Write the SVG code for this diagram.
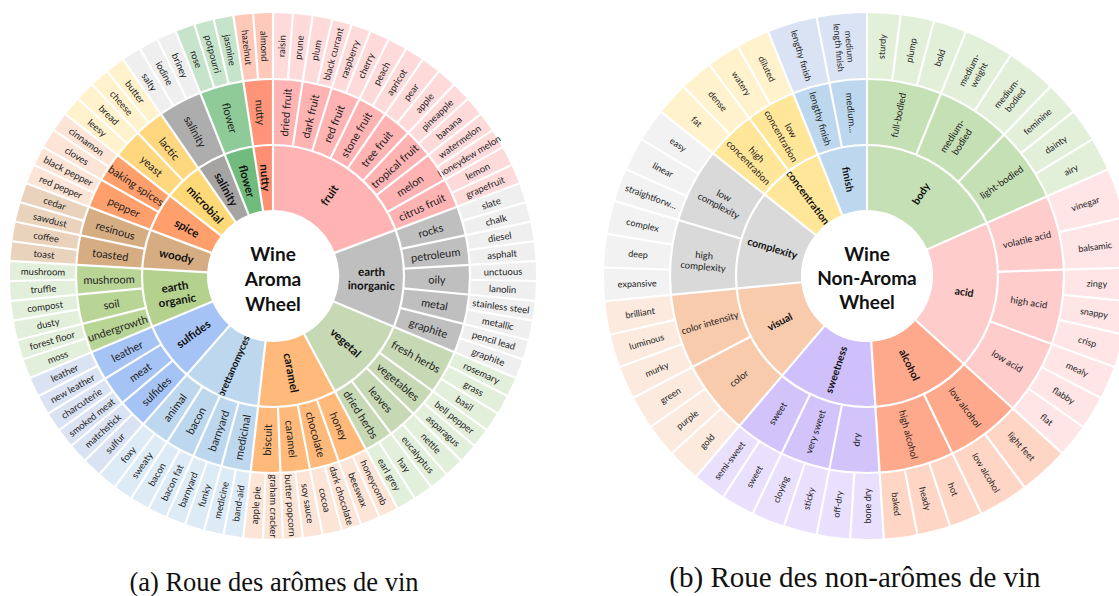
<svg xmlns="http://www.w3.org/2000/svg" xmlns:xlink="http://www.w3.org/1999/xlink" width="1119" height="596" viewBox="0 0 1119 596">
<style>
.a{fill:none}
text{font-family:Lato,"Open Sans","Liberation Sans",sans-serif;text-anchor:middle;dominant-baseline:central;fill:#222}
.l{font-size:9.5px;fill:#333}
.s{font-size:11px}
.k{font-size:11.5px;font-weight:bold;fill:#111}
.rl{font-size:9px;fill:#333}
.rs{font-size:9.5px}
.rk{font-size:10.5px;font-weight:bold;fill:#111}
.sep{stroke:#fff;stroke-width:2.2}
.ring{fill:none;stroke:#fff;stroke-width:2.2}
.ctr{font-size:19px;font-weight:bold;fill:#111}
.cap{font-family:"Liberation Serif","DejaVu Serif",serif;font-size:26.5px;fill:#111;dominant-baseline:alphabetic}
</style>
<defs>
<line id="lc" class="sep" x1="65" x2="265"/>
<line id="ls" class="sep" x1="131" x2="265"/>
<line id="ll" class="sep" x1="197" x2="265"/>
</defs>
<rect width="1119" height="596" fill="#fff"/>

<!-- LEFT WHEEL -->
<g id="wheel-aroma" transform="translate(273,276)">
<g id="fruit">
<circle class="a" pathLength="360" r="98.5" stroke-width="65" stroke="#FFB3B3" stroke-dasharray="69.398 360" transform="rotate(-90)"/>
<circle class="a" pathLength="360" r="164" stroke-width="66" stroke="#FFB3B3" stroke-dasharray="69.398 360" transform="rotate(-90)"/>
<circle class="a" pathLength="360" r="230" stroke-width="66" stroke="#FFDADA" stroke-dasharray="69.398 360" transform="rotate(-90)"/>
<text class="k" transform="rotate(-55.301)" x="98.5">fruit</text>
<g class="s">
<text transform="rotate(-85.663)" x="164">dried fruit</text>
<text transform="rotate(-76.988)" x="164">dark fruit</text>
<text transform="rotate(-68.313)" x="164">red fruit</text>
<text transform="rotate(-59.639)" x="164">stone fruit</text>
<text transform="rotate(-50.964)" x="164">tree fruit</text>
<text transform="rotate(-42.289)" x="164">tropical fruit</text>
<text transform="rotate(-33.614)" x="164">melon</text>
<text transform="rotate(-24.940)" x="164">citrus fruit</text>
</g>
<g class="l">
<text transform="rotate(-87.831)" x="230">raisin</text>
<text transform="rotate(-83.494)" x="230">prune</text>
<text transform="rotate(-79.157)" x="230">plum</text>
<text transform="rotate(-74.819)" x="230">black currant</text>
<text transform="rotate(-70.482)" x="230">raspberry</text>
<text transform="rotate(-66.145)" x="230">cherry</text>
<text transform="rotate(-61.807)" x="230">peach</text>
<text transform="rotate(-57.470)" x="230">apricot</text>
<text transform="rotate(-53.133)" x="230">pear</text>
<text transform="rotate(-48.795)" x="230">apple</text>
<text transform="rotate(-44.458)" x="230">pineapple</text>
<text transform="rotate(-40.120)" x="230">banana</text>
<text transform="rotate(-35.783)" x="230">watermelon</text>
<text transform="rotate(-31.446)" x="230">honeydew melon</text>
<text transform="rotate(-27.108)" x="230">lemon</text>
<text transform="rotate(-22.771)" x="230">grapefruit</text>
</g>
</g>
<g id="earth-inorganic">
<circle class="a" pathLength="360" r="98.5" stroke-width="65" stroke="#BFBFBF" stroke-dasharray="43.373 360" transform="rotate(-20.602)"/>
<circle class="a" pathLength="360" r="164" stroke-width="66" stroke="#BFBFBF" stroke-dasharray="43.373 360" transform="rotate(-20.602)"/>
<circle class="a" pathLength="360" r="230" stroke-width="66" stroke="#EFEFEF" stroke-dasharray="43.373 360" transform="rotate(-20.602)"/>
<text class="k" transform="rotate(1.084)"><tspan x="98.5" dy="-0.6em">earth</tspan><tspan x="98.5" dy="1.2em">inorganic</tspan></text>
<g class="s">
<text transform="rotate(-16.265)" x="164">rocks</text>
<text transform="rotate(-7.590)" x="164">petroleum</text>
<text transform="rotate(1.084)" x="164">oily</text>
<text transform="rotate(9.759)" x="164">metal</text>
<text transform="rotate(18.434)" x="164">graphite</text>
</g>
<g class="l">
<text transform="rotate(-18.434)" x="230">slate</text>
<text transform="rotate(-14.096)" x="230">chalk</text>
<text transform="rotate(-9.759)" x="230">diesel</text>
<text transform="rotate(-5.422)" x="230">asphalt</text>
<text transform="rotate(-1.084)" x="230">unctuous</text>
<text transform="rotate(3.253)" x="230">lanolin</text>
<text transform="rotate(7.590)" x="230">stainless steel</text>
<text transform="rotate(11.928)" x="230">metallic</text>
<text transform="rotate(16.265)" x="230">pencil lead</text>
<text transform="rotate(20.602)" x="230">graphite</text>
</g>
</g>
<g id="vegetal">
<circle class="a" pathLength="360" r="98.5" stroke-width="65" stroke="#C6D8B4" stroke-dasharray="39.036 360" transform="rotate(22.771)"/>
<circle class="a" pathLength="360" r="164" stroke-width="66" stroke="#C6D8B4" stroke-dasharray="39.036 360" transform="rotate(22.771)"/>
<circle class="a" pathLength="360" r="230" stroke-width="66" stroke="#E2EFDA" stroke-dasharray="39.036 360" transform="rotate(22.771)"/>
<text class="k" transform="rotate(42.289)" x="98.5">vegetal</text>
<g class="s">
<text transform="rotate(29.277)" x="164">fresh herbs</text>
<text transform="rotate(40.120)" x="164">vegetables</text>
<text transform="rotate(48.795)" x="164">leaves</text>
<text transform="rotate(57.470)" x="164">dried herbs</text>
</g>
<g class="l">
<text transform="rotate(24.940)" x="230">rosemary</text>
<text transform="rotate(29.277)" x="230">grass</text>
<text transform="rotate(33.614)" x="230">basil</text>
<text transform="rotate(37.952)" x="230">bell pepper</text>
<text transform="rotate(42.289)" x="230">asparagus</text>
<text transform="rotate(46.627)" x="230">nettle</text>
<text transform="rotate(50.964)" x="230">eucalyptus</text>
<text transform="rotate(55.301)" x="230">hay</text>
<text transform="rotate(59.639)" x="230">earl grey</text>
</g>
</g>
<g id="caramel">
<circle class="a" pathLength="360" r="98.5" stroke-width="65" stroke="#FFB97A" stroke-dasharray="34.699 360" transform="rotate(61.807)"/>
<circle class="a" pathLength="360" r="164" stroke-width="66" stroke="#FFB97A" stroke-dasharray="34.699 360" transform="rotate(61.807)"/>
<circle class="a" pathLength="360" r="230" stroke-width="66" stroke="#FCE4D6" stroke-dasharray="34.699 360" transform="rotate(61.807)"/>
<text class="k" transform="rotate(79.157)" x="98.5">caramel</text>
<g class="s">
<text transform="rotate(66.145)" x="164">honey</text>
<text transform="rotate(74.819)" x="164">chocolate</text>
<text transform="rotate(83.494)" x="164">caramel</text>
<text transform="rotate(-87.831)" x="-164">biscuit</text>
</g>
<g class="l">
<text transform="rotate(63.976)" x="230">honeycomb</text>
<text transform="rotate(68.313)" x="230">beeswax</text>
<text transform="rotate(72.651)" x="230">dark chocolate</text>
<text transform="rotate(76.988)" x="230">cocoa</text>
<text transform="rotate(81.325)" x="230">soy sauce</text>
<text transform="rotate(85.663)" x="230">butter popcorn</text>
<text transform="rotate(90)" x="230">graham cracker</text>
<text transform="rotate(-85.663)" x="-230">apple pie</text>
</g>
</g>
<g id="brettanomyces">
<circle class="a" pathLength="360" r="98.5" stroke-width="65" stroke="#BDD7EE" stroke-dasharray="34.699 360" transform="rotate(96.506)"/>
<circle class="a" pathLength="360" r="164" stroke-width="66" stroke="#BDD7EE" stroke-dasharray="34.699 360" transform="rotate(96.506)"/>
<circle class="a" pathLength="360" r="230" stroke-width="66" stroke="#DDEBF7" stroke-dasharray="34.699 360" transform="rotate(96.506)"/>
<text class="k" style="font-size:10px" transform="rotate(-66.145)" x="-98.5">brettanomyces</text>
<g class="s">
<text transform="rotate(-79.157)" x="-164">medicinal</text>
<text transform="rotate(-70.482)" x="-164">barnyard</text>
<text transform="rotate(-61.807)" x="-164">bacon</text>
<text transform="rotate(-53.133)" x="-164">animal</text>
</g>
<g class="l">
<text transform="rotate(-81.325)" x="-230">band-aid</text>
<text transform="rotate(-76.988)" x="-230">medicine</text>
<text transform="rotate(-72.651)" x="-230">funky</text>
<text transform="rotate(-68.313)" x="-230">barnyard</text>
<text transform="rotate(-63.976)" x="-230">bacon fat</text>
<text transform="rotate(-59.639)" x="-230">bacon</text>
<text transform="rotate(-55.301)" x="-230">sweaty</text>
<text transform="rotate(-50.964)" x="-230">foxy</text>
</g>
</g>
<g id="sulfides">
<circle class="a" pathLength="360" r="98.5" stroke-width="65" stroke="#A6C3F5" stroke-dasharray="26.024 360" transform="rotate(131.205)"/>
<circle class="a" pathLength="360" r="164" stroke-width="66" stroke="#A6C3F5" stroke-dasharray="26.024 360" transform="rotate(131.205)"/>
<circle class="a" pathLength="360" r="230" stroke-width="66" stroke="#DAE3F3" stroke-dasharray="26.024 360" transform="rotate(131.205)"/>
<text class="k" transform="rotate(-35.783)" x="-98.5">sulfides</text>
<g class="s">
<text transform="rotate(-44.458)" x="-164">sulfides</text>
<text transform="rotate(-35.783)" x="-164">meat</text>
<text transform="rotate(-27.108)" x="-164">leather</text>
</g>
<g class="l">
<text transform="rotate(-46.627)" x="-230">sulfur</text>
<text transform="rotate(-42.289)" x="-230">matchstick</text>
<text transform="rotate(-37.952)" x="-230">smoked meat</text>
<text transform="rotate(-33.614)" x="-230">charcuterie</text>
<text transform="rotate(-29.277)" x="-230">new leather</text>
<text transform="rotate(-24.940)" x="-230">leather</text>
</g>
</g>
<g id="earth-organic">
<circle class="a" pathLength="360" r="98.5" stroke-width="65" stroke="#B4D28E" stroke-dasharray="26.024 360" transform="rotate(157.229)"/>
<circle class="a" pathLength="360" r="164" stroke-width="66" stroke="#B9D596" stroke-dasharray="26.024 360" transform="rotate(157.229)"/>
<circle class="a" pathLength="360" r="230" stroke-width="66" stroke="#E2EFDA" stroke-dasharray="26.024 360" transform="rotate(157.229)"/>
<text class="k" transform="rotate(-9.759)"><tspan x="-98.5" dy="-0.6em">earth</tspan><tspan x="-98.5" dy="1.2em">organic</tspan></text>
<g class="s">
<text transform="rotate(-18.434)" x="-164">undergrowth</text>
<text transform="rotate(-9.759)" x="-164">soil</text>
<text transform="rotate(-1.084)" x="-164">mushroom</text>
</g>
<g class="l">
<text transform="rotate(-20.602)" x="-230">moss</text>
<text transform="rotate(-16.265)" x="-230">forest floor</text>
<text transform="rotate(-11.928)" x="-230">dusty</text>
<text transform="rotate(-7.590)" x="-230">compost</text>
<text transform="rotate(-3.253)" x="-230">truffle</text>
<text transform="rotate(1.084)" x="-230">mushroom</text>
</g>
</g>
<g id="woody">
<circle class="a" pathLength="360" r="98.5" stroke-width="65" stroke="#D6AD82" stroke-dasharray="17.349 360" transform="rotate(183.253)"/>
<circle class="a" pathLength="360" r="164" stroke-width="66" stroke="#D6AD82" stroke-dasharray="17.349 360" transform="rotate(183.253)"/>
<circle class="a" pathLength="360" r="230" stroke-width="66" stroke="#EAD3BD" stroke-dasharray="17.349 360" transform="rotate(183.253)"/>
<text class="k" transform="rotate(11.928)" x="-98.5">woody</text>
<g class="s">
<text transform="rotate(7.590)" x="-164">toasted</text>
<text transform="rotate(16.265)" x="-164">resinous</text>
</g>
<g class="l">
<text transform="rotate(5.422)" x="-230">toast</text>
<text transform="rotate(9.759)" x="-230">coffee</text>
<text transform="rotate(14.096)" x="-230">sawdust</text>
<text transform="rotate(18.434)" x="-230">cedar</text>
</g>
</g>
<g id="spice">
<circle class="a" pathLength="360" r="98.5" stroke-width="65" stroke="#FFA06C" stroke-dasharray="17.349 360" transform="rotate(200.602)"/>
<circle class="a" pathLength="360" r="164" stroke-width="66" stroke="#FFA06C" stroke-dasharray="17.349 360" transform="rotate(200.602)"/>
<circle class="a" pathLength="360" r="230" stroke-width="66" stroke="#FCE4D6" stroke-dasharray="17.349 360" transform="rotate(200.602)"/>
<text class="k" transform="rotate(29.277)" x="-98.5">spice</text>
<g class="s">
<text transform="rotate(24.940)" x="-164">pepper</text>
<text transform="rotate(33.614)" x="-164">baking spices</text>
</g>
<g class="l">
<text transform="rotate(22.771)" x="-230">red pepper</text>
<text transform="rotate(27.108)" x="-230">black pepper</text>
<text transform="rotate(31.446)" x="-230">cloves</text>
<text transform="rotate(35.783)" x="-230">cinnamon</text>
</g>
</g>
<g id="microbial">
<circle class="a" pathLength="360" r="98.5" stroke-width="65" stroke="#FFD977" stroke-dasharray="17.349 360" transform="rotate(217.952)"/>
<circle class="a" pathLength="360" r="164" stroke-width="66" stroke="#FFD77E" stroke-dasharray="17.349 360" transform="rotate(217.952)"/>
<circle class="a" pathLength="360" r="230" stroke-width="66" stroke="#FFF2CC" stroke-dasharray="17.349 360" transform="rotate(217.952)"/>
<text class="k" transform="rotate(46.627)" x="-98.5">microbial</text>
<g class="s">
<text transform="rotate(42.289)" x="-164">yeast</text>
<text transform="rotate(50.964)" x="-164">lactic</text>
</g>
<g class="l">
<text transform="rotate(40.120)" x="-230">leesy</text>
<text transform="rotate(44.458)" x="-230">bread</text>
<text transform="rotate(48.795)" x="-230">cheese</text>
<text transform="rotate(53.133)" x="-230">butter</text>
</g>
</g>
<g id="salinity">
<circle class="a" pathLength="360" r="98.5" stroke-width="65" stroke="#A6A3A3" stroke-dasharray="13.012 360" transform="rotate(235.301)"/>
<circle class="a" pathLength="360" r="164" stroke-width="66" stroke="#AEADAD" stroke-dasharray="13.012 360" transform="rotate(235.301)"/>
<circle class="a" pathLength="360" r="230" stroke-width="66" stroke="#EFEFEF" stroke-dasharray="13.012 360" transform="rotate(235.301)"/>
<text class="k" transform="rotate(61.807)" x="-98.5">salinity</text>
<text class="s" transform="rotate(61.807)" x="-164">salinity</text>
<g class="l">
<text transform="rotate(57.470)" x="-230">salty</text>
<text transform="rotate(61.807)" x="-230">iodine</text>
<text transform="rotate(66.145)" x="-230">briney</text>
</g>
</g>
<g id="flower">
<circle class="a" pathLength="360" r="98.5" stroke-width="65" stroke="#72BB7E" stroke-dasharray="13.012 360" transform="rotate(248.313)"/>
<circle class="a" pathLength="360" r="164" stroke-width="66" stroke="#8ECB98" stroke-dasharray="13.012 360" transform="rotate(248.313)"/>
<circle class="a" pathLength="360" r="230" stroke-width="66" stroke="#C6E4CB" stroke-dasharray="13.012 360" transform="rotate(248.313)"/>
<text class="k" transform="rotate(74.819)" x="-98.5">flower</text>
<text class="s" transform="rotate(74.819)" x="-164">flower</text>
<g class="l">
<text transform="rotate(70.482)" x="-230">rose</text>
<text transform="rotate(74.819)" x="-230">potpourri</text>
<text transform="rotate(79.157)" x="-230">jasmine</text>
</g>
</g>
<g id="nutty">
<circle class="a" pathLength="360" r="98.5" stroke-width="65" stroke="#FF8F73" stroke-dasharray="8.675 360" transform="rotate(261.325)"/>
<circle class="a" pathLength="360" r="164" stroke-width="66" stroke="#FF9478" stroke-dasharray="8.675 360" transform="rotate(261.325)"/>
<circle class="a" pathLength="360" r="230" stroke-width="66" stroke="#FFC9BA" stroke-dasharray="8.675 360" transform="rotate(261.325)"/>
<text class="k" transform="rotate(85.663)" x="-98.5">nutty</text>
<text class="s" transform="rotate(85.663)" x="-164">nutty</text>
<g class="l">
<text transform="rotate(83.494)" x="-230">hazelnut</text>
<text transform="rotate(87.831)" x="-230">almond</text>
</g>
</g>
<g id="separators-aroma">
<circle class="ring" r="131"/>
<circle class="ring" r="197"/>
<use href="#lc" transform="rotate(-90)"/><use href="#lc" transform="rotate(-20.602)"/><use href="#lc" transform="rotate(22.771)"/><use href="#lc" transform="rotate(61.807)"/><use href="#lc" transform="rotate(96.506)"/><use href="#lc" transform="rotate(131.205)"/><use href="#lc" transform="rotate(157.229)"/><use href="#lc" transform="rotate(183.253)"/><use href="#lc" transform="rotate(200.602)"/><use href="#lc" transform="rotate(217.952)"/><use href="#lc" transform="rotate(235.301)"/><use href="#lc" transform="rotate(248.313)"/><use href="#lc" transform="rotate(261.325)"/>
<use href="#ls" transform="rotate(-81.325)"/><use href="#ls" transform="rotate(-72.651)"/><use href="#ls" transform="rotate(-63.976)"/><use href="#ls" transform="rotate(-55.301)"/><use href="#ls" transform="rotate(-46.627)"/><use href="#ls" transform="rotate(-37.952)"/><use href="#ls" transform="rotate(-29.277)"/><use href="#ls" transform="rotate(-11.928)"/><use href="#ls" transform="rotate(-3.253)"/><use href="#ls" transform="rotate(5.422)"/><use href="#ls" transform="rotate(14.096)"/><use href="#ls" transform="rotate(35.783)"/><use href="#ls" transform="rotate(44.458)"/><use href="#ls" transform="rotate(53.133)"/><use href="#ls" transform="rotate(70.482)"/><use href="#ls" transform="rotate(79.157)"/><use href="#ls" transform="rotate(87.831)"/><use href="#ls" transform="rotate(105.181)"/><use href="#ls" transform="rotate(113.855)"/><use href="#ls" transform="rotate(122.530)"/><use href="#ls" transform="rotate(139.880)"/><use href="#ls" transform="rotate(148.554)"/><use href="#ls" transform="rotate(165.904)"/><use href="#ls" transform="rotate(174.578)"/><use href="#ls" transform="rotate(191.928)"/><use href="#ls" transform="rotate(209.277)"/><use href="#ls" transform="rotate(226.627)"/>
<use href="#ll" transform="rotate(-85.663)"/><use href="#ll" transform="rotate(-76.988)"/><use href="#ll" transform="rotate(-68.313)"/><use href="#ll" transform="rotate(-59.639)"/><use href="#ll" transform="rotate(-50.964)"/><use href="#ll" transform="rotate(-42.289)"/><use href="#ll" transform="rotate(-33.614)"/><use href="#ll" transform="rotate(-24.940)"/><use href="#ll" transform="rotate(-16.265)"/><use href="#ll" transform="rotate(-7.590)"/><use href="#ll" transform="rotate(1.084)"/><use href="#ll" transform="rotate(9.759)"/><use href="#ll" transform="rotate(18.434)"/><use href="#ll" transform="rotate(27.108)"/><use href="#ll" transform="rotate(31.446)"/><use href="#ll" transform="rotate(40.120)"/><use href="#ll" transform="rotate(48.795)"/><use href="#ll" transform="rotate(57.470)"/><use href="#ll" transform="rotate(66.145)"/><use href="#ll" transform="rotate(74.819)"/><use href="#ll" transform="rotate(83.494)"/><use href="#ll" transform="rotate(92.169)"/><use href="#ll" transform="rotate(100.843)"/><use href="#ll" transform="rotate(109.518)"/><use href="#ll" transform="rotate(118.193)"/><use href="#ll" transform="rotate(126.867)"/><use href="#ll" transform="rotate(135.542)"/><use href="#ll" transform="rotate(144.217)"/><use href="#ll" transform="rotate(152.892)"/><use href="#ll" transform="rotate(161.566)"/><use href="#ll" transform="rotate(170.241)"/><use href="#ll" transform="rotate(178.916)"/><use href="#ll" transform="rotate(187.590)"/><use href="#ll" transform="rotate(196.265)"/><use href="#ll" transform="rotate(204.940)"/><use href="#ll" transform="rotate(213.614)"/><use href="#ll" transform="rotate(222.289)"/><use href="#ll" transform="rotate(230.964)"/><use href="#ll" transform="rotate(239.639)"/><use href="#ll" transform="rotate(243.976)"/><use href="#ll" transform="rotate(252.651)"/><use href="#ll" transform="rotate(256.988)"/><use href="#ll" transform="rotate(265.663)"/>
</g>
<g id="center-aroma" class="ctr">
<text class="ctr" x="0" y="-23">Wine</text>
<text class="ctr" x="0" y="2">Aroma</text>
<text class="ctr" x="0" y="27">Wheel</text>
</g>
</g>

<!-- RIGHT WHEEL -->
<g id="wheel-non-aroma" transform="translate(867,276)">
<g id="body">
<circle class="a" pathLength="360" r="98.5" stroke-width="65" stroke="#C5E0B4" stroke-dasharray="66.122 360" transform="rotate(-90)"/>
<circle class="a" pathLength="360" r="164" stroke-width="66" stroke="#C5E0B4" stroke-dasharray="66.122 360" transform="rotate(-90)"/>
<circle class="a" pathLength="360" r="230" stroke-width="66" stroke="#E2F0D9" stroke-dasharray="66.122 360" transform="rotate(-90)"/>
<text class="rk" transform="rotate(-56.939)" x="98.5">body</text>
<g class="rs">
<text transform="rotate(-78.980)" x="164">full-bodied</text>
<text transform="rotate(-56.939)"><tspan x="164" dy="-0.6em">medium-</tspan><tspan x="164" dy="1.2em">bodied</tspan></text>
<text transform="rotate(-34.898)" x="164">light-bodied</text>
</g>
<g class="rl">
<text transform="rotate(-86.327)" x="230">sturdy</text>
<text transform="rotate(-78.980)" x="230">plump</text>
<text transform="rotate(-71.633)" x="230">bold</text>
<text transform="rotate(-62.449)"><tspan x="230" dy="-0.6em">medium-</tspan><tspan x="230" dy="1.2em">weight</tspan></text>
<text transform="rotate(-51.429)"><tspan x="230" dy="-0.6em">medium-</tspan><tspan x="230" dy="1.2em">bodied</tspan></text>
<text transform="rotate(-42.245)" x="230">feminine</text>
<text transform="rotate(-34.898)" x="230">dainty</text>
<text transform="rotate(-27.551)" x="230">airy</text>
</g>
</g>
<g id="acid">
<circle class="a" pathLength="360" r="98.5" stroke-width="65" stroke="#FFCCCC" stroke-dasharray="66.122 360" transform="rotate(-23.878)"/>
<circle class="a" pathLength="360" r="164" stroke-width="66" stroke="#FFCCCC" stroke-dasharray="66.122 360" transform="rotate(-23.878)"/>
<circle class="a" pathLength="360" r="230" stroke-width="66" stroke="#FFE5E5" stroke-dasharray="66.122 360" transform="rotate(-23.878)"/>
<text class="rk" transform="rotate(9.184)" x="98.5">acid</text>
<g class="rs">
<text transform="rotate(-12.857)" x="164">volatile acid</text>
<text transform="rotate(9.184)" x="164">high acid</text>
<text transform="rotate(31.224)" x="164">low acid</text>
</g>
<g class="rl">
<text transform="rotate(-18.367)" x="230">vinegar</text>
<text transform="rotate(-7.347)" x="230">balsamic</text>
<text transform="rotate(1.837)" x="230">zingy</text>
<text transform="rotate(9.184)" x="230">snappy</text>
<text transform="rotate(16.531)" x="230">crisp</text>
<text transform="rotate(23.878)" x="230">mealy</text>
<text transform="rotate(31.224)" x="230">flabby</text>
<text transform="rotate(38.571)" x="230">flat</text>
</g>
</g>
<g id="alcohol">
<circle class="a" pathLength="360" r="98.5" stroke-width="65" stroke="#FFA98C" stroke-dasharray="44.082 360" transform="rotate(42.245)"/>
<circle class="a" pathLength="360" r="164" stroke-width="66" stroke="#FFA98C" stroke-dasharray="44.082 360" transform="rotate(42.245)"/>
<circle class="a" pathLength="360" r="230" stroke-width="66" stroke="#FFD6C6" stroke-dasharray="44.082 360" transform="rotate(42.245)"/>
<text class="rk" transform="rotate(64.286)" x="98.5">alcohol</text>
<g class="rs">
<text transform="rotate(53.265)" x="164">low alcohol</text>
<text transform="rotate(75.306)" x="164">high alcohol</text>
</g>
<g class="rl">
<text transform="rotate(47.755)" x="230">light feet</text>
<text transform="rotate(58.776)" x="230">low alcohol</text>
<text transform="rotate(67.959)" x="230">hot</text>
<text transform="rotate(75.306)" x="230">heady</text>
<text transform="rotate(82.653)" x="230">baked</text>
</g>
</g>
<g id="sweetness">
<circle class="a" pathLength="360" r="98.5" stroke-width="65" stroke="#CFBFFB" stroke-dasharray="44.082 360" transform="rotate(86.327)"/>
<circle class="a" pathLength="360" r="164" stroke-width="66" stroke="#D2C3FB" stroke-dasharray="44.082 360" transform="rotate(86.327)"/>
<circle class="a" pathLength="360" r="230" stroke-width="66" stroke="#E8E0FD" stroke-dasharray="44.082 360" transform="rotate(86.327)"/>
<text class="rk" transform="rotate(-71.633)" x="-98.5">sweetness</text>
<g class="rs">
<text transform="rotate(-86.327)" x="-164">dry</text>
<text transform="rotate(-71.633)" x="-164">very sweet</text>
<text transform="rotate(-56.939)" x="-164">sweet</text>
</g>
<g class="rl">
<text transform="rotate(-90)" x="-230">bone dry</text>
<text transform="rotate(-82.653)" x="-230">off-dry</text>
<text transform="rotate(-75.306)" x="-230">sticky</text>
<text transform="rotate(-67.959)" x="-230">cloying</text>
<text transform="rotate(-60.612)" x="-230">sweet</text>
<text transform="rotate(-53.265)" x="-230">semi-sweet</text>
</g>
</g>
<g id="visual">
<circle class="a" pathLength="360" r="98.5" stroke-width="65" stroke="#F8CBAD" stroke-dasharray="44.082 360" transform="rotate(130.408)"/>
<circle class="a" pathLength="360" r="164" stroke-width="66" stroke="#F8CBAD" stroke-dasharray="44.082 360" transform="rotate(130.408)"/>
<circle class="a" pathLength="360" r="230" stroke-width="66" stroke="#FCEADE" stroke-dasharray="44.082 360" transform="rotate(130.408)"/>
<text class="rk" transform="rotate(-27.551)" x="-98.5">visual</text>
<g class="rs">
<text transform="rotate(-38.571)" x="-164">color</text>
<text transform="rotate(-16.531)" x="-164">color intensity</text>
</g>
<g class="rl">
<text transform="rotate(-45.918)" x="-230">gold</text>
<text transform="rotate(-38.571)" x="-230">purple</text>
<text transform="rotate(-31.224)" x="-230">green</text>
<text transform="rotate(-23.878)" x="-230">murky</text>
<text transform="rotate(-16.531)" x="-230">luminous</text>
<text transform="rotate(-9.184)" x="-230">brilliant</text>
</g>
</g>
<g id="complexity">
<circle class="a" pathLength="360" r="98.5" stroke-width="65" stroke="#D9D9D9" stroke-dasharray="44.082 360" transform="rotate(174.490)"/>
<circle class="a" pathLength="360" r="164" stroke-width="66" stroke="#D9D9D9" stroke-dasharray="44.082 360" transform="rotate(174.490)"/>
<circle class="a" pathLength="360" r="230" stroke-width="66" stroke="#F2F2F2" stroke-dasharray="44.082 360" transform="rotate(174.490)"/>
<text class="rk" transform="rotate(16.531)" x="-98.5">complexity</text>
<g class="rs">
<text transform="rotate(5.510)"><tspan x="-164" dy="-0.6em">high</tspan><tspan x="-164" dy="1.2em">complexity</tspan></text>
<text transform="rotate(27.551)"><tspan x="-164" dy="-0.6em">low</tspan><tspan x="-164" dy="1.2em">complexity</tspan></text>
</g>
<g class="rl">
<text transform="rotate(-1.837)" x="-230">expansive</text>
<text transform="rotate(5.510)" x="-230">deep</text>
<text transform="rotate(12.857)" x="-230">complex</text>
<text transform="rotate(20.204)" x="-230">straightforw...</text>
<text transform="rotate(27.551)" x="-230">linear</text>
<text transform="rotate(34.898)" x="-230">easy</text>
</g>
</g>
<g id="concentration">
<circle class="a" pathLength="360" r="98.5" stroke-width="65" stroke="#FFE699" stroke-dasharray="29.388 360" transform="rotate(218.571)"/>
<circle class="a" pathLength="360" r="164" stroke-width="66" stroke="#FFE699" stroke-dasharray="29.388 360" transform="rotate(218.571)"/>
<circle class="a" pathLength="360" r="230" stroke-width="66" stroke="#FFF2CC" stroke-dasharray="29.388 360" transform="rotate(218.571)"/>
<text class="rk" transform="rotate(53.265)" x="-98.5">concentration</text>
<g class="rs">
<text transform="rotate(45.918)"><tspan x="-164" dy="-0.6em">high</tspan><tspan x="-164" dy="1.2em">concentration</tspan></text>
<text transform="rotate(60.612)"><tspan x="-164" dy="-0.6em">low</tspan><tspan x="-164" dy="1.2em">concentration</tspan></text>
</g>
<g class="rl">
<text transform="rotate(42.245)" x="-230">fat</text>
<text transform="rotate(49.592)" x="-230">dense</text>
<text transform="rotate(56.939)" x="-230">watery</text>
<text transform="rotate(64.286)" x="-230">diluted</text>
</g>
</g>
<g id="finish">
<circle class="a" pathLength="360" r="98.5" stroke-width="65" stroke="#BDD7EE" stroke-dasharray="22.041 360" transform="rotate(247.959)"/>
<circle class="a" pathLength="360" r="164" stroke-width="66" stroke="#BDD7EE" stroke-dasharray="22.041 360" transform="rotate(247.959)"/>
<circle class="a" pathLength="360" r="230" stroke-width="66" stroke="#DAE3F3" stroke-dasharray="22.041 360" transform="rotate(247.959)"/>
<text class="rk" transform="rotate(78.980)" x="-98.5">finish</text>
<g class="rs">
<text transform="rotate(73.469)" x="-164">lengthy finish</text>
<text transform="rotate(84.490)" x="-164">medium...</text>
</g>
<g class="rl">
<text transform="rotate(73.469)" x="-230">lengthy finish</text>
<text transform="rotate(84.490)"><tspan x="-230" dy="-0.6em">medium</tspan><tspan x="-230" dy="1.2em">length finish</tspan></text>
</g>
</g>
<g id="separators-non-aroma">
<circle class="ring" r="131"/>
<circle class="ring" r="197"/>
<use href="#lc" transform="rotate(-90)"/><use href="#lc" transform="rotate(-23.878)"/><use href="#lc" transform="rotate(42.245)"/><use href="#lc" transform="rotate(86.327)"/><use href="#lc" transform="rotate(130.408)"/><use href="#lc" transform="rotate(174.490)"/><use href="#lc" transform="rotate(218.571)"/><use href="#lc" transform="rotate(247.959)"/>
<use href="#ls" transform="rotate(-67.959)"/><use href="#ls" transform="rotate(-45.918)"/><use href="#ls" transform="rotate(-1.837)"/><use href="#ls" transform="rotate(20.204)"/><use href="#ls" transform="rotate(64.286)"/><use href="#ls" transform="rotate(101.020)"/><use href="#ls" transform="rotate(115.714)"/><use href="#ls" transform="rotate(152.449)"/><use href="#ls" transform="rotate(196.531)"/><use href="#ls" transform="rotate(233.265)"/><use href="#ls" transform="rotate(258.980)"/>
<use href="#ll" transform="rotate(-82.653)"/><use href="#ll" transform="rotate(-75.306)"/><use href="#ll" transform="rotate(-56.939)"/><use href="#ll" transform="rotate(-38.571)"/><use href="#ll" transform="rotate(-31.224)"/><use href="#ll" transform="rotate(-12.857)"/><use href="#ll" transform="rotate(5.510)"/><use href="#ll" transform="rotate(12.857)"/><use href="#ll" transform="rotate(27.551)"/><use href="#ll" transform="rotate(34.898)"/><use href="#ll" transform="rotate(53.265)"/><use href="#ll" transform="rotate(71.633)"/><use href="#ll" transform="rotate(78.980)"/><use href="#ll" transform="rotate(93.673)"/><use href="#ll" transform="rotate(108.367)"/><use href="#ll" transform="rotate(123.061)"/><use href="#ll" transform="rotate(137.755)"/><use href="#ll" transform="rotate(145.102)"/><use href="#ll" transform="rotate(159.796)"/><use href="#ll" transform="rotate(167.143)"/><use href="#ll" transform="rotate(181.837)"/><use href="#ll" transform="rotate(189.184)"/><use href="#ll" transform="rotate(203.878)"/><use href="#ll" transform="rotate(211.224)"/><use href="#ll" transform="rotate(225.918)"/><use href="#ll" transform="rotate(240.612)"/>
</g>
<g id="center-non-aroma">
<text class="ctr" x="0" y="-23">Wine</text>
<text class="ctr" x="0" y="1">Non-Aroma</text>
<text class="ctr" x="0" y="25">Wheel</text>
</g>
</g>

<g id="captions">
<text class="cap" x="274" y="591">(a) Roue des arômes de vin</text>
<text class="cap" style="font-size:29px" x="855" y="587">(b) Roue des non-arômes de vin</text>
</g>
</svg>
